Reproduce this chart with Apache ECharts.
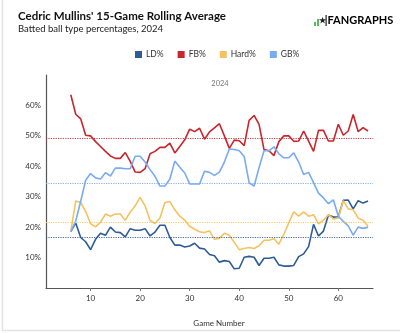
<!DOCTYPE html>
<html>
<head>
<meta charset="utf-8">
<script src="https://cdn.jsdelivr.net/npm/echarts@6/dist/echarts.min.js"></script>
<style>
  html, body { margin: 0; padding: 0; background: #fff; }
  #chart { width: 400px; height: 333px; }
</style>
</head>
<body>
<div id="chart"></div>
<script>
// Rolling 15-game batted ball rates, games 6 through 66
const games = [6,7,8,9,10,11,12,13,14,15,16,17,18,19,20,21,22,23,24,25,26,27,28,29,30,31,32,33,34,35,36,37,38,39,40,41,42,43,44,45,46,47,48,49,50,51,52,53,54,55,56,57,58,59,60,61,62,63,64,65,66];

const ldPct = [18.5,21.4,16.6,15.2,12.6,16.0,18.0,17.3,20.0,18.4,18.2,16.8,19.5,19.0,19.0,19.5,17.1,18.4,20.6,20.6,16.6,14.1,14.1,13.5,13.8,14.7,13.1,12.8,11.0,10.6,8.5,9.0,8.7,6.3,6.5,10.1,10.4,10.1,7.4,9.8,9.8,10.1,7.6,7.2,7.2,7.4,10.3,11.2,13.6,20.9,17.1,18.7,24.0,23.3,23.4,28.8,28.9,26.0,28.7,27.9,28.6];

const fbPct = [63.5,57.1,55.6,50.2,50.0,48.1,46.5,44.9,43.4,42.6,42.6,44.5,41.6,38.1,38.0,39.2,44.1,44.9,46.2,46.2,47.6,44.4,46.5,48.7,52.2,51.4,52.5,48.9,51.3,52.6,54.0,50.0,45.9,48.6,48.4,46.8,55.1,56.7,53.8,45.5,45.1,43.5,48.1,50.0,50.0,48.2,48.3,51.6,48.3,44.9,51.8,51.8,48.3,48.3,53.8,50.2,51.6,57.0,51.4,52.7,51.6];

const hardPct = [18.5,28.6,28.1,25.2,21.1,20.1,21.6,24.3,23.6,24.3,24.3,22.3,24.9,27.0,29.8,27.0,22.2,21.2,23.0,28.1,28.4,25.7,23.6,22.3,20.3,19.3,18.5,18.2,18.8,16.0,16.3,18.0,17.3,15.0,12.6,13.0,13.3,13.0,13.9,15.7,15.7,16.2,14.4,17.6,21.4,25.0,23.6,25.0,23.6,24.1,21.1,22.3,24.1,22.7,23.0,28.7,26.0,25.7,23.0,22.3,20.3];

const gbPct = [18.5,22.0,28.5,35.4,37.6,36.2,35.8,37.9,36.8,39.4,39.4,39.2,39.2,43.3,43.3,41.4,38.9,36.7,33.5,33.5,35.8,41.7,39.7,37.8,34.2,34.2,34.2,38.4,38.0,37.0,38.1,41.4,45.7,45.5,45.1,43.2,34.6,33.5,39.5,45.1,45.1,46.4,44.1,42.8,42.8,44.4,41.4,37.3,38.0,34.6,31.2,29.6,27.7,29.0,23.6,21.9,20.4,17.4,20.0,19.6,20.0];

// Season averages, drawn as reference lines
const seasonAvg = { ld: 16.6, fb: 49.1, hard: 21.7, gb: 34.5 };

const xTicks = [10, 20, 30, 40, 50, 60];

const colors = { ld: '#2e5b98', fb: '#c9252c', hard: '#f4c35f', gb: '#78abf2' };

const font = 'Lato, "Open Sans", sans-serif';

function pairs(vals) {
  return games.map((g, i) => [g, vals[i]]);
}

function lineSeries(name, vals, color, avg) {
  return {
    name: name,
    type: 'line',
    data: pairs(vals),
    showSymbol: false,
    symbol: 'none',
    lineStyle: { color: color, width: 1.6 },
    itemStyle: { color: color },
    markLine: {
      silent: true,
      symbol: 'none',
      label: { show: false },
      lineStyle: { color: color, type: 'dotted', width: 1.2, opacity: 0.9 },
      data: [{ yAxis: avg }]
    }
  };
}

const chart = echarts.init(document.getElementById('chart'), null, { renderer: 'canvas' });

chart.setOption({
  animation: false,
  backgroundColor: '#ffffff',
  textStyle: { fontFamily: font },
  grid: { left: 46, right: 27, top: 75, bottom: 45 },
  legend: {
    left: 130,
    top: 45,
    icon: 'rect',
    itemWidth: 7,
    itemHeight: 7,
    itemGap: 14,
    textStyle: { fontFamily: font, fontSize: 8.5, color: '#333', padding: [0, 0, 0, -1] },
    data: ['LD%', 'FB%', 'Hard%', 'GB%']
  },
  xAxis: {
    type: 'value',
    min: 1,
    max: 67,
    splitLine: { show: false },
    axisLine: { lineStyle: { color: '#555', width: 1.2 } },
    axisTick: { show: true, customValues: xTicks, length: 3, lineStyle: { color: '#777' } },
    axisLabel: { customValues: xTicks, color: '#333', fontSize: 8, fontFamily: font, margin: 6 }
  },
  yAxis: {
    type: 'value',
    min: 0,
    max: 70,
    interval: 10,
    splitLine: { show: false },
    axisLine: { show: true, lineStyle: { color: '#555', width: 1.2 } },
    axisTick: { show: false },
    axisLabel: {
      formatter: '{value}%',
      color: '#333',
      fontSize: 8,
      fontFamily: font,
      showMinLabel: false,
      showMaxLabel: false,
      margin: 5
    }
  },
  series: [
    lineSeries('LD%', ldPct, colors.ld, seasonAvg.ld),
    lineSeries('FB%', fbPct, colors.fb, seasonAvg.fb),
    lineSeries('Hard%', hardPct, colors.hard, seasonAvg.hard),
    lineSeries('GB%', gbPct, colors.gb, seasonAvg.gb)
  ],
  graphic: [
    // card edges
    { type: 'line', shape: { x1: 2.5, y1: 0, x2: 2.5, y2: 330 }, style: { stroke: '#e2e2e2', lineWidth: 1.5 } },
    { type: 'line', shape: { x1: 2, y1: 330.5, x2: 400, y2: 330.5 }, style: { stroke: '#e2e2e2', lineWidth: 1.5 } },
    {
      type: 'text', left: 18, top: 10,
      style: { text: "Cedric Mullins' 15-Game Rolling Average", font: 'bold 11.5px ' + font, fill: '#111' }
    },
    {
      type: 'text', left: 18, top: 24,
      style: { text: 'Batted ball type percentages, 2024', font: '9.5px ' + font, fill: '#222' }
    },
    {
      type: 'text', x: 220, y: 84,
      style: { text: '2024', font: '7.5px ' + font, fill: '#777', align: 'center', verticalAlign: 'middle' }
    },
    {
      type: 'text', x: 219, y: 323,
      style: { text: 'Game Number', font: '8px ' + font, fill: '#333', align: 'center', verticalAlign: 'middle' }
    },
    // FanGraphs wordmark
    { type: 'rect', shape: { x: 314, y: 22, width: 2, height: 4 }, style: { fill: '#5cb85c' } },
    { type: 'rect', shape: { x: 317, y: 19, width: 2, height: 7 }, style: { fill: '#5cb85c' } },
    {
      type: 'text', x: 322.5, y: 20,
      style: { text: '\u2605', font: 'bold 8px ' + font, fill: '#222', align: 'center', verticalAlign: 'middle' }
    },
    { type: 'rect', shape: { x: 325.5, y: 15, width: 1.2, height: 11 }, style: { fill: '#222' } },
    {
      type: 'text', x: 327.5, y: 20.5,
      style: {
        text: '{a|FAN}{b|GRAPHS}',
        verticalAlign: 'middle',
        rich: {
          a: { fontWeight: 'bold', fontSize: 11, fontFamily: font, color: '#222' },
          b: { fontWeight: 'bold', fontSize: 11, fontFamily: font, color: '#5cb85c' }
        }
      }
    }
  ]
});
</script>
</body>
</html>
